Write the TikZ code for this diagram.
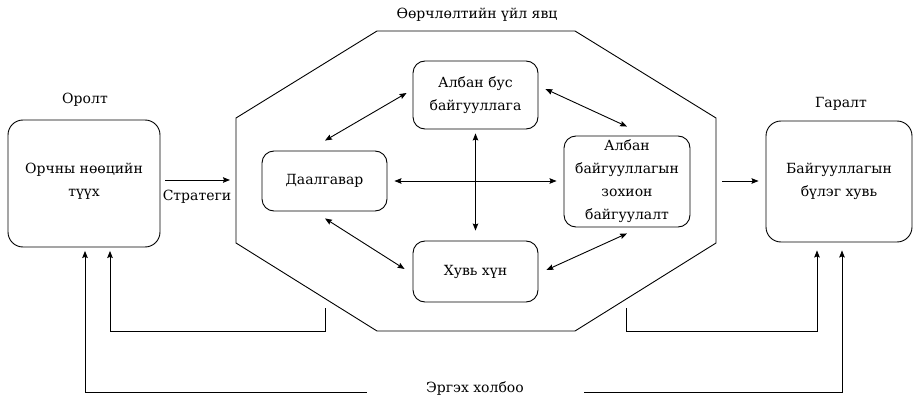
\documentclass[tikz,border=0pt]{standalone}
\usepackage{fontspec}
\setmainfont{DejaVu Serif}
\usetikzlibrary{arrows.meta,calc}
\newcommand\dgfont{\rmfamily\fontsize{14}{23}\selectfont}
\begin{document}
\begin{tikzpicture}[x=1pt,y=-1pt,line width=0.9pt,
  every node/.style={font=\dgfont, inner sep=0pt},
  bigbox/.style={draw, rounded corners=15pt, align=center},
  smallbox/.style={draw, rounded corners=12pt, align=center},
  txt/.style={align=center},
  arr/.style={-{Stealth[length=7pt,width=5.5pt,inset=1pt]}},
  dbl/.style={{Stealth[length=7pt,width=5.5pt,inset=1pt]}-{Stealth[length=7pt,width=5.5pt,inset=1pt]}}]
\useasboundingbox (0,0) rectangle (913,401);

% left box
\node[bigbox, minimum width=152, minimum height=127] (lb) at (84,183.5) {};
\node[txt] (lbt) at (84,181) {Орчны нөөцийн\\түүх};
\node (lbl) at (85,100) {Оролт};

% right box
\node[bigbox, minimum width=146, minimum height=121] (rb) at (839,181.5) {Байгууллагын\\бүлэг хувь};
\node (rbl) at (841,104) {Гаралт};

% octagon
\coordinate (o1) at (377,31);
\coordinate (o2) at (575,31);
\coordinate (o3) at (716,118);
\coordinate (o4) at (716,243);
\coordinate (o5) at (575,331);
\coordinate (o6) at (377,331);
\coordinate (o7) at (236,243);
\coordinate (o8) at (236,118);
\draw (o1) -- (o2) -- (o3) -- (o4) -- (o5) -- (o6) -- (o7) -- (o8) -- cycle;
\node (octl) at (477,15) {Өөрчлөлтийн үйл явц};

% inner nodes
\node[smallbox, minimum width=125, minimum height=68] (ab) at (475.5,95) {Албан бус\\байгууллага};
\node[smallbox, minimum width=125, minimum height=60] (dl) at (324.5,181) {Даалгавар};
\node[smallbox, minimum width=125, minimum height=61] (hh) at (475.5,271.5) {Хувь хүн};
\node[smallbox, minimum width=126, minimum height=91] (ao) at (627,181.5) {Албан\\байгууллагын\\зохион\\байгуулалт};

% inner arrows
\draw[dbl] ($(dl.north)+(0.5,-10)$) -- ($(ab.west)+(-6,-2)$);
\draw[dbl] ($(ab.east)+(7,-6)$) -- ($(ao.north)+(0,-9)$);
\draw[dbl] ($(dl.south)+(0.5,7)$) -- ($(hh.west)+(-8,-2.5)$);
\draw[dbl] ($(hh.east)+(8,-1.5)$) -- ($(ao.south)+(0,6)$);
\draw[dbl] ($(ab.south)+(0,4)$) -- ($(hh.north)+(0,-10)$);
\draw[dbl] ($(dl.east)+(7,0)$) -- ($(ao.west)+(-7,-0.5)$);

% strategy arrow
\coordinate (sIn) at (230,180);
\draw[arr] ($(lb.east)+(5,-3.5)$) -- (sIn);
\node (str) at (197,197) {Стратеги};

% output arrow
\coordinate (oOut) at (722,181);
\draw[arr] (oOut) -- ($(rb.west)+(-7,-0.5)$);

% feedback
\coordinate (fl) at (325,308);
\coordinate (fr) at (626,308);
\draw[arr] (fl) -- ++(0,23) -| ($(lb.south)+(26,3.5)$);
\draw[arr] (fr) -- ++(0,23) -| ($(rb.south)+(-22,8)$);
\node (eg) at (475,389) {Эргэх холбоо};
\draw[arr] ($(eg.west)+(-59,3)$) -| ($(lb.south)+(1,3.5)$);
\draw[arr] ($(eg.east)+(60,3)$) -| ($(rb.south)+(3,8)$);
\end{tikzpicture}
\end{document}
